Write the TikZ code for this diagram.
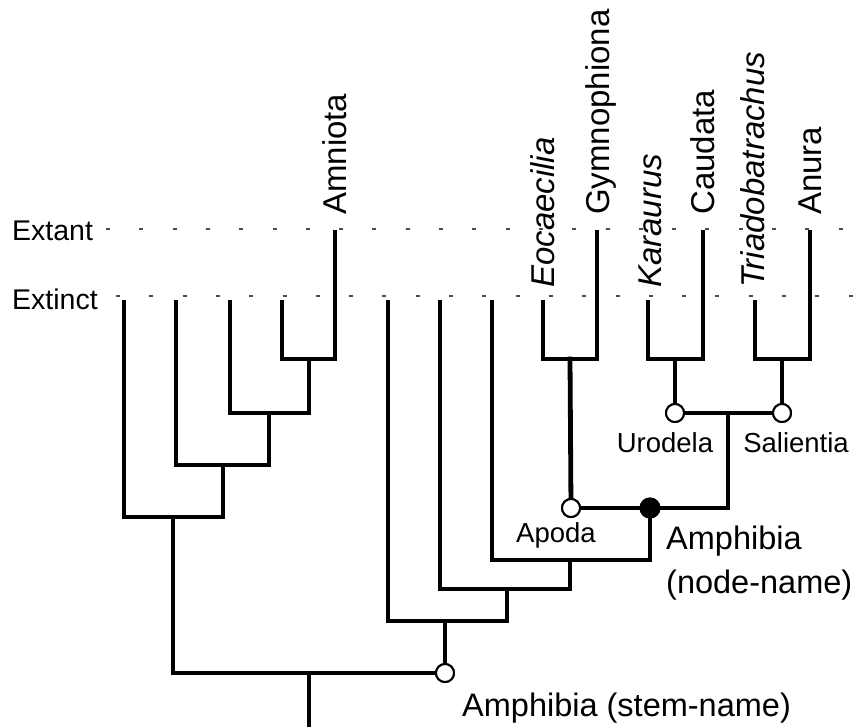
\documentclass[tikz,border=0pt]{standalone}
\usepackage{fontspec}
\setmainfont{Liberation Sans}
\begin{document}
\begin{tikzpicture}[x=1pt,y=-1pt,
  branch/.style={line width=4.8pt, line join=miter, line cap=rect},
  horizon/.style={line width=2.2pt, draw=black!70, dash pattern=on 4pt off 29.3pt},
  opennode/.style={circle, draw, line width=2pt, fill=white, minimum size=18pt, inner sep=0pt},
  fullnode/.style={circle, fill=black, minimum size=21pt, inner sep=0pt},
  taxon/.style={rotate=90, anchor=base west, inner sep=0pt, font=\fontsize{33}{40}\selectfont},
  clade/.style={inner sep=0pt, font=\fontsize{27.5}{33}\selectfont},
  horizonlabel/.style={inner sep=0pt, anchor=west, font=\fontsize{28.5}{34}\selectfont},
  bigname/.style={inner sep=0pt, font=\fontsize{32.5}{44}\selectfont},
]
\useasboundingbox (0,0) rectangle (858,726);

% time horizons
\node[horizonlabel] (extant) at (12,231) {Extant};
\node[horizonlabel] (extinct) at (12,299) {Extinct};
\coordinate (extantL) at (106,229);
\coordinate (extantR) at (858,229);
\coordinate (extinctL) at (116,296);
\coordinate (extinctR) at (858,296);
\draw[horizon] (extantL) -- (extantR);
\draw[horizon] (extinctL) -- (extinctR);

% leaf tips
\coordinate (l1) at (124,302);
\coordinate (l2) at (176,302);
\coordinate (l3) at (230,302);
\coordinate (l4) at (282,302);
\coordinate (amn) at (335,232);
\coordinate (l5) at (388,302);
\coordinate (l6) at (440,302);
\coordinate (l7) at (492,302);
\coordinate (eoc) at (543,302);
\coordinate (gym) at (597,232);
\coordinate (kar) at (648,302);
\coordinate (cau) at (703,232);
\coordinate (tri) at (755,302);
\coordinate (anu) at (810,232);

% internal branching points
\coordinate (n4) at (309,359);
\coordinate (n3) at (269,413);
\coordinate (n2) at (223,465);
\coordinate (n1) at (173,517);
\coordinate (root) at (309,673);
\coordinate (base) at (309,729);
\coordinate (a1) at (445,621);
\coordinate (a2) at (507,589);
\coordinate (a3) at (570,560);
\coordinate (apj) at (570,359);
\coordinate (uj) at (675,359);
\coordinate (sj) at (782,359);
\coordinate (batr) at (728,413);

% named clade nodes
\node[opennode] (stem) at (445,673) {};
\node[fullnode] (amph) at (650,508) {};
\node[opennode] (apoda) at (571,508) {};
\node[opennode] (urodela) at (675,413) {};
\node[opennode] (salientia) at (782,413) {};

% amniote side
\draw[branch] (l4) |- (n4) -| (amn);
\draw[branch] (l3) |- (n3) -| (n4);
\draw[branch] (l2) |- (n2) -| (n3);
\draw[branch] (l1) |- (n1) -| (n2);
\draw[branch] (n1) |- (root) -- (stem);
\draw[branch] (root) -- (base);

% amphibian side
\draw[branch] (a1) -- (stem);
\draw[branch] (l5) |- (a1) -| (a2);
\draw[branch] (l6) |- (a2) -| (a3);
\draw[branch] (l7) |- (a3) -| (amph);
\draw[branch] (apoda) -- (amph);
\draw[branch] (amph) -| (batr);
\draw[branch] (urodela) -- (salientia);
\draw[branch] (eoc) |- (apj) -| (gym);
\draw[branch] (apj) -- (apoda);
\draw[branch] (kar) |- (uj) -| (cau);
\draw[branch] (uj) -- (urodela);
\draw[branch] (tri) |- (sj) -| (anu);
\draw[branch] (sj) -- (salientia);

% clade markers drawn over the branch ends
\node[opennode] at (stem) {};
\node[fullnode] at (amph) {};
\node[opennode] at (apoda) {};
\node[opennode] at (urodela) {};
\node[opennode] at (salientia) {};

% taxon names
\node[taxon] (tAmn) at (346.5,215) {Amniota};
\node[taxon] (tEoc) at (554.5,288) {\itshape Eocaecilia};
\node[taxon] (tGym) at (609.5,215) {Gymnophiona};
\node[taxon] (tKar) at (661,288) {\itshape Karaurus};
\node[taxon] (tCau) at (714,215) {Caudata};
\node[taxon] (tTri) at (764,288) {\itshape Triadobatrachus};
\node[taxon] (tAnu) at (821.5,215) {Anura};

% clade names
\node[clade] (lUro) at (665,443) {Urodela};
\node[clade] (lSal) at (796,443) {Salientia};
\node[clade] (lApo) at (556,535) {Apoda};
\node[bigname, anchor=west, align=left] (lNode) at (666,563) {Amphibia\\(node-name)};
\node[bigname, anchor=base west] (lStem) at (462,716) {Amphibia (stem-name)};
\end{tikzpicture}
\end{document}
